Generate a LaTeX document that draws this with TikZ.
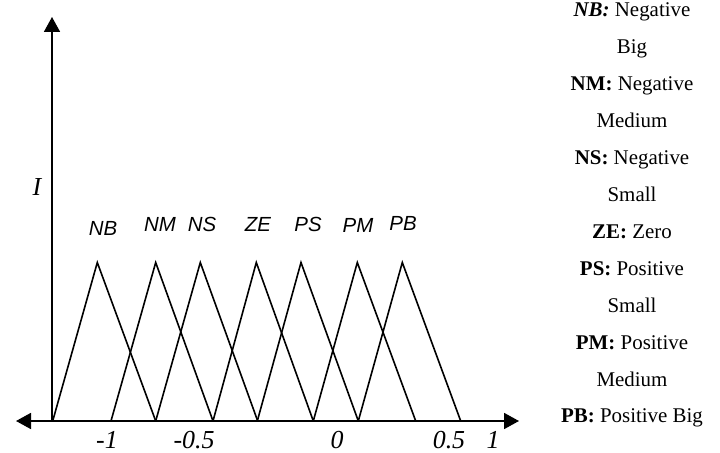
\documentclass[tikz,border=0pt]{standalone}
\usepackage{fontspec}
\setmainfont{Liberation Serif}
\newfontfamily\labsans{Liberation Sans}
\usetikzlibrary{arrows.meta}
\tikzset{
  axisline/.style={line width=1.8bp, -{Triangle[length=15bp,width=16bp]}},
  mfline/.style={line width=1.6bp, line join=miter},
  setlab/.style={font=\labsans\itshape\fontsize{20.5}{20.5}\selectfont, inner sep=0pt, anchor=center},
  numlab/.style={font=\itshape\fontsize{26}{26}\selectfont, inner sep=0pt, anchor=base},
  legend/.style={font=\fontsize{21}{21}\selectfont, inner sep=0pt, anchor=base}
}
\begin{document}
\begin{tikzpicture}[x=1bp,y=-1bp]
\useasboundingbox (0,0) rectangle (720,453);
% axes
\coordinate (O) at (52,421);
\coordinate (xl) at (16,421);
\coordinate (xr) at (519,421);
\coordinate (yt) at (52,17);
\draw[axisline] (O) -- (xr);
\draw[axisline] (O) -- (xl);
\draw[axisline] (O) -- (yt);
% triangles
\foreach \n/\a/\p/\b in {NB/52.7/97.3/155.7, NM/111/155.7/213, NS/155.7/200.3/257.7, ZE/213/256.3/313.3, PS/257.3/301/358.3, PM/313.3/357.3/415.7, PB/358.3/402.3/460.7}{
  \coordinate (\n-l) at (\a,421);
  \coordinate (\n-p) at (\p,262.5);
  \coordinate (\n-r) at (\b,421);
  \draw[mfline] (\n-l) -- (\n-p) -- (\n-r);
}
% set labels
\node[setlab] (lNB) at (103,228) {NB};
\node[setlab] (lNM) at (160,224) {NM};
\node[setlab] (lNS) at (202,224) {NS};
\node[setlab] (lZE) at (258,224) {ZE};
\node[setlab] (lPS) at (308,224) {PS};
\node[setlab] (lPM) at (358,225) {PM};
\node[setlab] (lPB) at (403,223) {PB};
% axis labels
\node[numlab] (lI) at (37,196) {I};
\node[numlab] (n1) at (107,448) {-1};
\node[numlab] (n2) at (194,448) {-0.5};
\node[numlab] (n3) at (337,448) {0};
\node[numlab] (n4) at (449,448) {0.5};
\node[numlab] (n5) at (493,448) {1};
% legend
\node[legend] (g1) at (632,17) {\textbf{\textit{NB:}} Negative};
\node[legend] (g2) at (632,53.9) {Big};
\node[legend] (g3) at (632,90.8) {\textbf{NM:} Negative};
\node[legend] (g4) at (632,127.7) {Medium};
\node[legend] (g5) at (632,164.6) {\textbf{NS:} Negative};
\node[legend] (g6) at (632,201.5) {Small};
\node[legend] (g7) at (632,238.4) {\textbf{ZE:} Zero};
\node[legend] (g8) at (632,275.3) {\textbf{PS:} Positive};
\node[legend] (g9) at (632,312.2) {Small};
\node[legend] (g10) at (632,349.1) {\textbf{PM:} Positive};
\node[legend] (g11) at (632,386) {Medium};
\node[legend] (g12) at (632,422.9) {\textbf{PB:} Positive Big};
\end{tikzpicture}
\end{document}
